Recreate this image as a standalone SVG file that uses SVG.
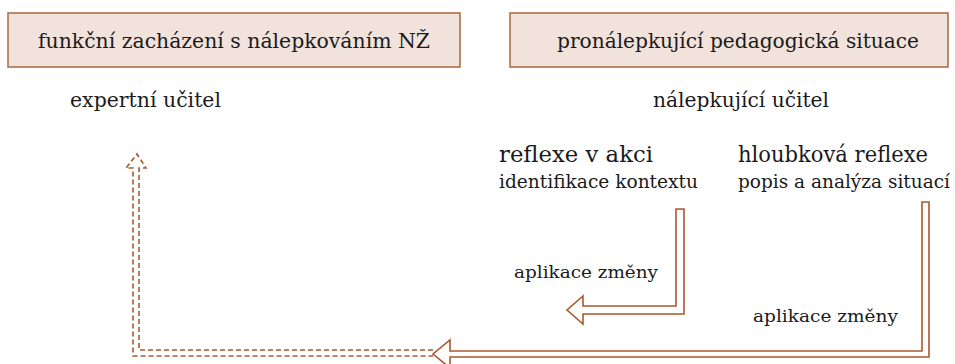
<svg xmlns="http://www.w3.org/2000/svg" width="955" height="364" viewBox="0 0 955 364">
  <style>
    .box { fill: #f2e2dc; stroke: #b06e4c; stroke-width: 1.6; }
    .t { font-family: "DejaVu Serif", "Liberation Serif", serif; fill: #1a1a1a; }
    .arrow { fill: #ffffff; stroke: #a9582f; stroke-width: 1.6; stroke-linejoin: miter; }
    .dash { fill: none; stroke: #a9582f; stroke-width: 1.6; stroke-dasharray: 5 3; }
  </style>

  <rect width="955" height="364" fill="#ffffff"/>

  <g id="node-funkcni">
    <rect class="box" x="8" y="13" width="452" height="54"/>
    <text class="t" x="38" y="48" font-size="20" textLength="392" lengthAdjust="spacingAndGlyphs">funkční zacházení s nálepkováním NŽ</text>
  </g>

  <g id="node-pronalepkujici">
    <rect class="box" x="510" y="13" width="438" height="54"/>
    <text class="t" x="557" y="48" font-size="20" textLength="362" lengthAdjust="spacingAndGlyphs">pronálepkující pedagogická situace</text>
  </g>

  <g id="node-expertni">
    <text class="t" x="70" y="107" font-size="20" textLength="151" lengthAdjust="spacingAndGlyphs">expertní učitel</text>
  </g>

  <g id="node-nalepkujici">
    <text class="t" x="653" y="107" font-size="20" textLength="176" lengthAdjust="spacingAndGlyphs">nálepkující učitel</text>
  </g>

  <g id="node-reflexe-akce">
    <text class="t" x="499" y="162" font-size="22" textLength="154" lengthAdjust="spacingAndGlyphs">reflexe v akci</text>
    <text class="t" x="499" y="188" font-size="18" textLength="199" lengthAdjust="spacingAndGlyphs">identifikace kontextu</text>
  </g>

  <g id="node-hloubkova">
    <text class="t" x="738" y="162" font-size="22" textLength="190" lengthAdjust="spacingAndGlyphs">hloubková reflexe</text>
    <text class="t" x="738" y="188" font-size="18" textLength="212" lengthAdjust="spacingAndGlyphs">popis a analýza situací</text>
  </g>

  <g id="connectors">
    <!-- short hollow arrow: reflection in action -> change -->
    <polygon class="arrow" points="676,209 684,209 684,314 583,314 583,324 567,310 583,296 583,306 676,306"/>
    <text class="t" x="514" y="278" font-size="17" textLength="144" lengthAdjust="spacingAndGlyphs">aplikace změny</text>

    <!-- long hollow arrow: deep reflection -> change -->
    <polygon class="arrow" points="922,202 929,202 929,357 450,357 450,368 433,354 450,340 450,351 922,351"/>
    <text class="t" x="753" y="322" font-size="17" textLength="145" lengthAdjust="spacingAndGlyphs">aplikace změny</text>

    <!-- dashed continuation up to the expert teacher -->
    <path class="dash" d="M433,350 L139,350 L139,168 L146,168 L137,154 L126,168 L133,168 L133,356 L433,356"/>
  </g>
</svg>
